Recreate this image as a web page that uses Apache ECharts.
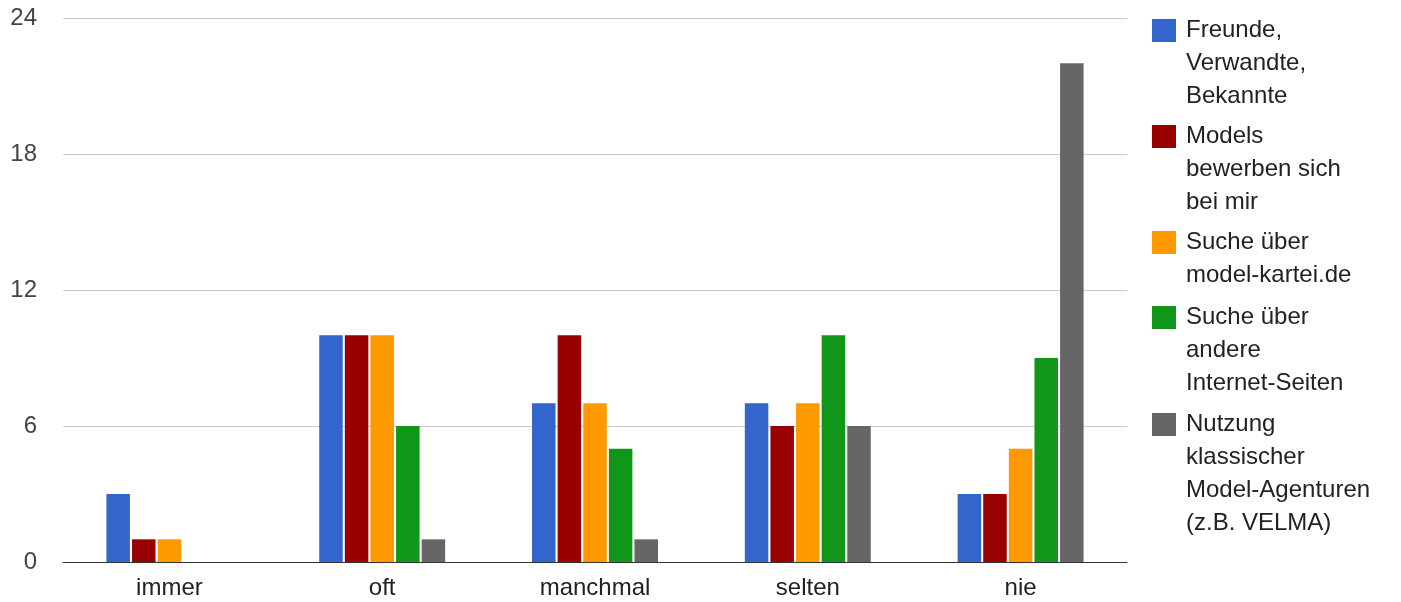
<!DOCTYPE html>
<html>
<head>
<meta charset="utf-8">
<script src="https://cdn.jsdelivr.net/npm/echarts@6/dist/echarts.min.js"></script>
<style>
  html, body { margin: 0; padding: 0; background: #fff; }
  #chart { width: 1401px; height: 602px; }
</style>
</head>
<body>
<div id="chart"></div>
<script>
// ---- data ----
const categories = ['immer', 'oft', 'manchmal', 'selten', 'nie'];
const seriesNames = [
  'Freunde, Verwandte, Bekannte',
  'Models bewerben sich bei mir',
  'Suche über model-kartei.de',
  'Suche über andere Internet-Seiten',
  'Nutzung klassischer Model-Agenturen (z.B. VELMA)'
];
const legendLines = [
  ['Freunde,', 'Verwandte,', 'Bekannte'],
  ['Models', 'bewerben sich', 'bei mir'],
  ['Suche über', 'model-kartei.de'],
  ['Suche über', 'andere', 'Internet-Seiten'],
  ['Nutzung', 'klassischer', 'Model-Agenturen', '(z.B. VELMA)']
];
const freunde   = [3, 10, 7, 7, 3];
const models    = [1, 10, 10, 6, 3];
const kartei    = [1, 10, 7, 7, 5];
const andere    = [0, 6, 5, 10, 9];
const agenturen = [0, 1, 1, 6, 22];
const yTicks = { min: 0, max: 24, interval: 6 };

const seriesValues = [freunde, models, kartei, andere, agenturen];
const colors = ['#3366cc', '#990000', '#ff9900', '#109618', '#666666'];
const legendTops = [14, 120, 226, 301, 408];

const FONT = '"Liberation Sans", Arial, sans-serif';
const LINE_H = 33;

const chart = echarts.init(document.getElementById('chart'), null, { renderer: 'canvas' });

const legends = seriesNames.map((name, i) => {
  const n = legendLines[i].length;
  const h = n * LINE_H;
  return {
    left: 1152,
    top: legendTops[i],
    padding: 0,
    orient: 'vertical',
    selectedMode: false,
    itemWidth: 29,
    itemHeight: h,
    icon: 'path://M0,0L0,0M29,' + h + 'L29,' + h + 'M0,5L24,5L24,28L0,28Z',
    itemStyle: { borderWidth: 0 },
    data: [name],
    formatter: () => legendLines[i].join('\n'),
    textStyle: { fontFamily: FONT, fontSize: 24, lineHeight: LINE_H, color: '#222' }
  };
});

const option = {
  backgroundColor: '#fff',
  animation: false,
  color: colors,
  legend: legends,
  grid: { left: 63, right: 274, top: 18, bottom: 40, containLabel: false },
  xAxis: {
    type: 'category',
    data: categories,
    axisTick: { show: false },
    axisLine: { show: true, lineStyle: { color: '#333', width: 1 } },
    axisLabel: { fontFamily: FONT, fontSize: 24, color: '#222', margin: 14 },
    splitLine: { show: false }
  },
  yAxis: {
    type: 'value',
    min: yTicks.min,
    max: yTicks.max,
    interval: yTicks.interval,
    axisLine: { show: false },
    axisTick: { show: false },
    axisLabel: { fontFamily: FONT, fontSize: 24, color: '#444', margin: 26 },
    splitLine: { show: true, lineStyle: { color: '#cccccc', width: 1 } }
  },
  series: seriesNames.map((name, i) => ({
    name: name,
    type: 'bar',
    data: seriesValues[i],
    barWidth: 23.5,
    barGap: '9%',
    itemStyle: { color: colors[i], borderWidth: 0 },
    emphasis: { disabled: true }
  }))
};

chart.setOption(option);
</script>
</body>
</html>
